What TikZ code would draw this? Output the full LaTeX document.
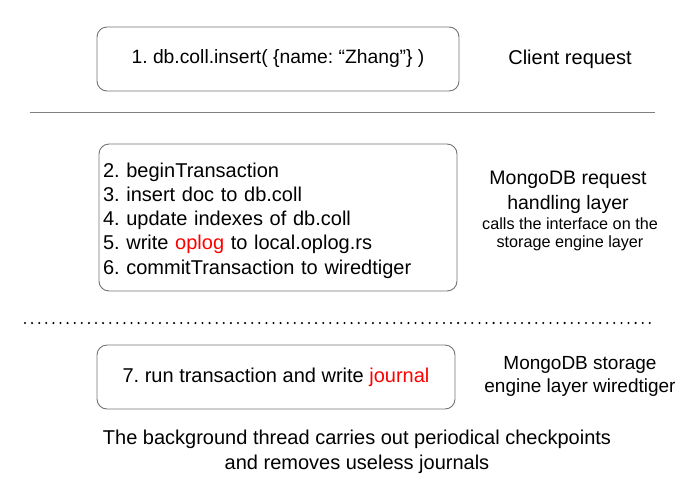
\documentclass[tikz,border=0pt]{standalone}
\usepackage{fontspec}
\setmainfont{Liberation Sans}
\usetikzlibrary{positioning}
\frenchspacing

\begin{document}
\begin{tikzpicture}[
x=1pt, y=-1pt,
box/.style={draw=black!55, rounded corners=10pt, line width=0.9pt, minimum width=362pt, font=\fontsize{20}{24.2}\selectfont},
note/.style={align=center, font=\fontsize{19.5}{25}\selectfont},
small/.style={align=center, font=\fontsize{16.2}{18}\selectfont},
hot/.style={text=red}
]
\useasboundingbox (0,0) rectangle (700,485);

% client side
\node[box, minimum height=64pt, font=\fontsize{19.3}{24}\selectfont] (insert) at (278,59) {1. db.coll.insert( \{name: “Zhang”\} )};
\node[note, font=\fontsize{20}{25}\selectfont] (client) at (570,59) {Client request};

\draw[black!50, line width=0.8pt] (30,112) -- (655,112);

% request handling layer
\node[box, minimum width=358pt, minimum height=147pt, align=left, text width=350pt] (steps) at (278,217.5)
  {\rule{0pt}{20.6pt}2. beginTransaction\\
   3. insert doc to db.coll\\
   4. update indexes of db.coll\\
   5. write {\color{red}oplog} to local.oplog.rs\\
   6. commitTransaction to wiredtiger};
\node[note] (handling) at (568,192.5) {MongoDB request\\handling layer};
\node[small] (calls) at (570,234) {calls the interface on the\\storage engine layer};

\draw[line width=2.3pt, line cap=round, dash pattern=on 0pt off 7.1pt] (25,323) -- (652,323);

% storage engine layer
\node[box, minimum width=358pt, minimum height=64pt] (journal) at (276,377) {7. run transaction and write {\color{red}journal}};
\node[note, font=\fontsize{19}{23}\selectfont] (storage) at (580,376.5) {MongoDB storage\\engine layer wiredtiger};

\node[note, font=\fontsize{20}{25}\selectfont] (checkpoint) at (357,451.5) {The background thread carries out periodical checkpoints\\and removes useless journals};
\end{tikzpicture}
\end{document}
